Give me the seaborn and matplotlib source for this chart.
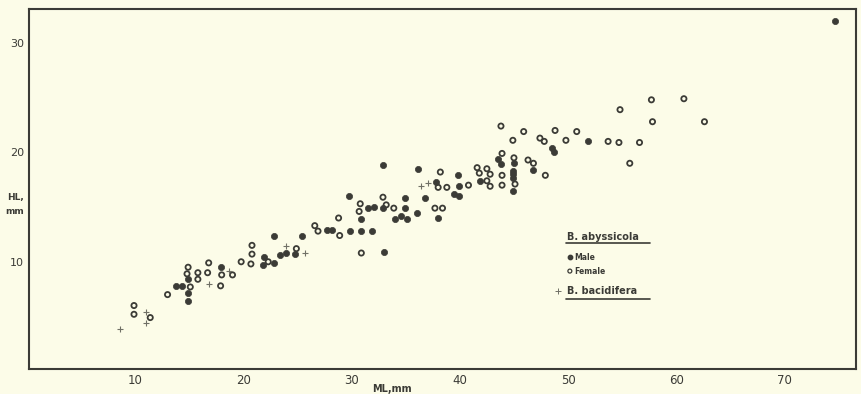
import matplotlib
matplotlib.use("Agg")
import matplotlib.pyplot as plt
import seaborn as sns
import pandas as pd

# Mantle length (ML, mm) and head length (HL, mm)
male_ml = [14.9, 14.9, 14.9, 13.8, 14.3, 17.9, 22.8, 21.9, 21.8, 22.8, 23.4, 23.9, 24.8,
           25.4, 27.7, 28.2, 29.8, 29.9, 30.9, 31.9, 30.9, 31.5, 32.1, 33.0, 32.9, 32.9,
           34.9, 34.9, 34.6, 35.1, 34.0, 36.0, 36.1, 36.8, 38.0, 37.8, 39.8, 39.9, 39.5,
           39.9, 41.9, 43.5, 43.8, 45.0, 44.9, 44.9, 44.9, 44.9, 46.8, 48.5, 48.7, 51.8, 74.7]
male_hl = [7.1, 6.4, 8.4, 7.8, 7.8, 9.5, 12.4, 10.4, 9.7, 9.9, 10.6, 10.8, 10.7,
           12.4, 12.9, 12.9, 16.0, 12.8, 12.8, 12.8, 13.9, 14.9, 15.0, 10.9, 18.8, 14.9,
           15.8, 14.9, 14.2, 13.9, 13.9, 14.5, 18.5, 15.8, 14.0, 17.3, 17.9, 16.9, 16.2,
           16.0, 17.4, 19.4, 18.9, 19.0, 18.3, 18.0, 17.7, 16.5, 18.4, 20.4, 20.0, 21.0, 32.0]

female_ml = [9.9, 9.9, 11.4, 13.0, 14.9, 14.8, 15.1, 15.8, 15.8, 16.8, 16.7, 18.0, 17.9,
             19.0, 19.8, 20.8, 20.8, 20.7, 22.3, 24.9, 26.6, 26.9, 28.8, 28.9, 30.8, 30.7,
             30.9, 32.9, 33.2, 33.9, 37.7, 38.4, 38.0, 38.2, 38.8, 40.8, 41.6, 41.8, 42.5,
             42.8, 42.5, 42.8, 43.8, 43.9, 43.9, 43.9, 44.9, 45.0, 45.1, 45.9, 46.3, 46.8,
             47.4, 47.8, 47.9, 48.8, 49.8, 50.8, 53.7, 54.7, 54.8, 56.6, 55.7, 57.7, 57.8,
             60.7, 62.6]
female_hl = [6.0, 5.2, 4.9, 7.0, 9.5, 8.9, 7.7, 9.0, 8.4, 9.9, 9.0, 8.8, 7.8,
             8.8, 10.0, 11.5, 10.7, 9.8, 10.0, 11.2, 13.3, 12.8, 14.0, 12.4, 15.3, 14.6,
             10.8, 15.9, 15.2, 14.9, 14.9, 14.9, 16.8, 18.2, 16.8, 17.0, 18.6, 18.1, 18.5,
             18.0, 17.4, 16.9, 22.4, 19.9, 17.9, 17.0, 21.1, 19.5, 17.1, 21.9, 19.3, 19.0,
             21.3, 21.0, 17.9, 22.0, 21.1, 21.9, 21.0, 20.9, 23.9, 20.9, 19.0, 24.8, 22.8,
             24.9, 22.8]

bacidifera_ml = [8.6, 11.0, 11.0, 16.8, 18.7, 23.9, 25.7, 36.4, 37.1]
bacidifera_hl = [3.9, 5.4, 4.4, 8.0, 9.2, 11.4, 10.8, 16.9, 17.2]

x_ticks = [10, 20, 30, 40, 50, 60, 70]
y_ticks = [10, 20, 30]

paper = "#fcfce8"
ink = "#3b3b36"
cross = "#707066"

sns.set_style("white")
plt.rcParams["font.family"] = ["DejaVu Sans"]

df = pd.concat([
    pd.DataFrame({"ML": male_ml, "HL": male_hl, "group": "Male"}),
    pd.DataFrame({"ML": female_ml, "HL": female_hl, "group": "Female"}),
    pd.DataFrame({"ML": bacidifera_ml, "HL": bacidifera_hl, "group": "B. bacidifera"}),
], ignore_index=True)

fig = plt.figure(figsize=(8.61, 3.94), dpi=100, facecolor=paper)
ax = fig.add_axes([29 / 861, 1 - 369 / 394, 827 / 861, 360 / 394])
ax.set_facecolor(paper)

sns.scatterplot(data=df[df.group == "Male"], x="ML", y="HL", ax=ax, marker="o",
                s=20, color=ink, edgecolor=ink, linewidth=0.5, legend=False)
sns.scatterplot(data=df[df.group == "Female"], x="ML", y="HL", ax=ax, marker="o",
                s=14, facecolor="none", edgecolor=ink, linewidth=1.3, legend=False)
sns.scatterplot(data=df[df.group == "B. bacidifera"], x="ML", y="HL", ax=ax, marker="+",
                s=22, color=cross, linewidth=0.8, legend=False)

ax.set_xlim(0.2, 76.6)
ax.set_ylim(0.2, 33.1)
ax.set_xticks(x_ticks)
ax.set_yticks(y_ticks)
ax.set_xticklabels([str(t) for t in x_ticks], fontsize=8.5, color=ink)
ax.set_yticklabels([str(t) for t in y_ticks], fontsize=8, color=ink)
ax.tick_params(axis="both", direction="out", length=2.5, width=1, color=ink, pad=1)
ax.set_xlabel("")
ax.set_ylabel("")

for side in ["left", "right", "top", "bottom"]:
    ax.spines[side].set_visible(True)
    ax.spines[side].set_color(ink)
    ax.spines[side].set_linewidth(1.5)

# axis titles
fig.text(392 / 861, 1 - 389 / 394, "ML,mm", ha="center", va="center",
         fontsize=7, fontweight="bold", color=ink)
fig.text(16 / 861, 1 - 198 / 394, "HL,", ha="center", va="center",
         fontsize=6.5, fontweight="bold", color=ink)
fig.text(15 / 861, 1 - 211 / 394, "mm", ha="center", va="center",
         fontsize=6.5, fontweight="bold", color=ink)

# legend block
tf = ax.transAxes
ax.text(0.6505, 0.367, "B. abyssicola", transform=tf, ha="left", va="center",
        fontsize=7, fontweight="bold", color=ink)
ax.plot([0.649, 0.751], [0.350, 0.350], transform=tf, color=ink, lw=1.2)
ax.scatter([0.654], [0.311], transform=tf, s=10, color=ink, marker="o")
ax.text(0.659, 0.311, "Male", transform=tf, ha="left", va="center",
        fontsize=5.5, fontweight="bold", color=ink)
ax.scatter([0.654], [0.272], transform=tf, s=8, facecolor="none", edgecolor=ink,
           linewidth=0.9, marker="o")
ax.text(0.659, 0.272, "Female", transform=tf, ha="left", va="center",
        fontsize=5.5, fontweight="bold", color=ink)
ax.scatter([0.640], [0.217], transform=tf, s=14, color=cross, marker="+", linewidth=0.7)
ax.text(0.6505, 0.217, "B. bacidifera", transform=tf, ha="left", va="center",
        fontsize=7, fontweight="bold", color=ink)
ax.plot([0.649, 0.751], [0.194, 0.194], transform=tf, color=ink, lw=1.2)

fig.savefig("out.png", dpi=100, facecolor=paper)
